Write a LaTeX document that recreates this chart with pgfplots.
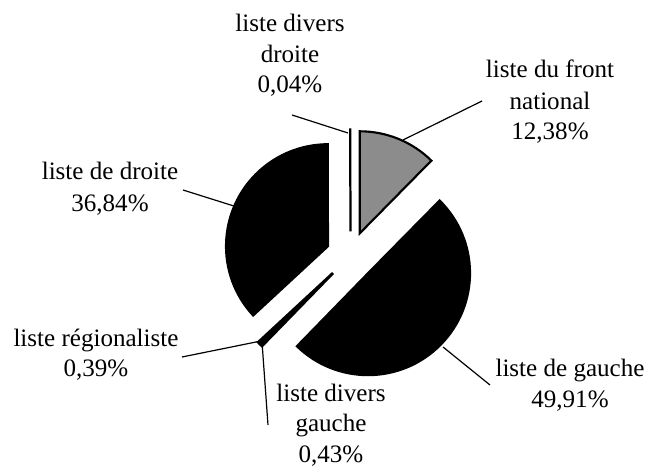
\documentclass[border=0pt]{standalone}
\usepackage{pgfplots}
\pgfplotsset{compat=1.18}
\usepackage{fontspec}
\setmainfont{Liberation Serif}
% slice: start (%), value (%), fill colour
\newcommand{\pieslice}[3]{%
  \filldraw[fill=#3, draw=black, line width=1.6pt, line join=miter]
    (axis cs:350.5,211) ++({90-1.8*(2*#1+#2)}:18.4pt)
    -- ++({90-3.6*#1}:76.5pt)
    arc[start angle={90-3.6*#1}, end angle={90-3.6*(#1+#2)}, radius=76.5pt]
    -- cycle;}
\newcommand{\lab}[3]{\node[anchor=base, inner sep=0pt, font=\fontsize{18.8}{22}\selectfont] at (axis cs:#1,#2) {#3};}
\begin{document}
\begin{tikzpicture}
\begin{axis}[width=487.5pt, height=350.25pt, scale only axis,
  xmin=0, xmax=650, ymin=0, ymax=467, hide axis, clip=false]
\path (axis cs:0,0) rectangle (axis cs:650,467);
% data: start, share
\pieslice{0}{12.38}{black!45}     % liste du front national
\pieslice{12.38}{49.91}{black}    % liste de gauche
\pieslice{62.29}{0.43}{black}     % liste divers gauche
\pieslice{62.72}{0.39}{black}     % liste regionaliste
\pieslice{63.11}{36.84}{black}    % liste de droite
\pieslice{99.95}{0.04}{black}     % liste divers droite
% leader lines
\draw[line width=0.9pt] (axis cs:292,352) -- (axis cs:348,334);
\draw[line width=0.9pt] (axis cs:482,366) -- (axis cs:403,327);
\draw[line width=0.9pt] (axis cs:183,277) -- (axis cs:237,260);
\draw[line width=0.9pt] (axis cs:182,110) -- (axis cs:261,126);
\draw[line width=0.9pt] (axis cs:262,125) -- (axis cs:268,42);
\draw[line width=0.9pt] (axis cs:443,120) -- (axis cs:490,82);
% labels
\lab{290}{435}{liste divers}
\lab{290}{404}{droite}
\lab{290}{374}{0,04\%}
\lab{550}{389}{liste du front}
\lab{550}{357}{national}
\lab{550}{327}{12,38\%}
\lab{110}{287}{liste de droite}
\lab{110}{255}{36,84\%}
\lab{96}{120}{liste régionaliste}
\lab{96}{90}{0,39\%}
\lab{331}{65}{liste divers}
\lab{331}{35}{gauche}
\lab{331}{4}{0,43\%}
\lab{570}{90}{liste de gauche}
\lab{570}{59}{49,91\%}
\end{axis}
\end{tikzpicture}
\end{document}
